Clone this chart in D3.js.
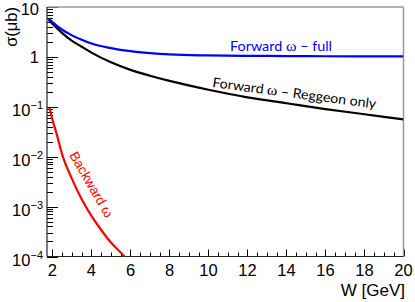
<!DOCTYPE html>
<html>
<head>
<meta charset="utf-8">
<script src="https://cdn.jsdelivr.net/npm/d3@7"></script>
<style>
  body { margin: 0; background: #fff; }
  svg { display: block; }
</style>
</head>
<body>
<svg id="chart" width="415" height="302"></svg>
<script>
// values
const wFull = [1.8, 2, 2.5, 3, 3.5, 4, 5, 6, 7, 8, 10, 12, 14, 16, 18, 20];
const sigmaFull = [5.9, 5.0, 3.5, 2.7, 2.2, 1.85, 1.5, 1.3, 1.19, 1.12, 1.07, 1.05, 1.04, 1.03, 1.02, 1.02];

const wRegge = [1.8, 2, 2.5, 3, 3.5, 4, 5, 6, 7, 8, 10, 12, 14, 16, 18, 20];
const sigmaRegge = [5.6, 4.6, 3.0, 2.1, 1.6, 1.22, 0.78, 0.55, 0.42, 0.33, 0.22, 0.155, 0.118, 0.09, 0.071, 0.056];

const wBack = [1.85, 2, 2.2, 2.5, 3, 3.5, 4, 4.5, 5, 5.5, 6];
const sigmaBack = [0.095, 0.055, 0.03, 0.011, 0.0036, 0.0014, 6.5e-4, 3.4e-4, 1.9e-4, 1.2e-4, 7.5e-5];

const xMajor = [2, 4, 6, 8, 10, 12, 14, 16, 18, 20];
const yMajor = [10, 1, 0.1, 0.01, 0.001, 0.0001];
const yLabels = [
  { v: 10, base: "10", exp: null },
  { v: 1, base: "1", exp: null },
  { v: 0.1, base: "10", exp: "\u22121" },
  { v: 0.01, base: "10", exp: "\u22122" },
  { v: 0.001, base: "10", exp: "\u22123" },
  { v: 0.0001, base: "10", exp: "\u22124" }
];

const pLeft = 47, pRight = 403.5, pTop = 7, pBottom = 256.5;
const svg = d3.select("#chart");

const x = d3.scaleLinear().domain([1.72, 20]).range([pLeft, pRight]);
const y = d3.scaleLog().domain([1e-4, 10]).range([pBottom, pTop]);

svg.append("defs").append("clipPath").attr("id", "plot")
  .append("rect").attr("x", pLeft).attr("y", pTop)
  .attr("width", pRight - pLeft).attr("height", pBottom - pTop);

// minor ticks
const xMinor = d3.range(2.5, 20, 0.5).filter(v => v % 2 !== 0);
const yMinor = [];
[1e-4, 1e-3, 1e-2, 1e-1, 1].forEach(d => {
  for (let k = 2; k <= 9; k++) yMinor.push(d * k);
});

const ticks = svg.append("g").attr("stroke", "#000").attr("stroke-width", 1);
ticks.selectAll(".xmaj").data(xMajor).join("line")
  .attr("x1", d => Math.round(x(d)) + 0.5).attr("x2", d => Math.round(x(d)) + 0.5)
  .attr("y1", pBottom).attr("y2", pBottom - 7);
ticks.selectAll(".xmin").data(xMinor).join("line")
  .attr("x1", d => Math.round(x(d)) + 0.5).attr("x2", d => Math.round(x(d)) + 0.5)
  .attr("y1", pBottom).attr("y2", pBottom - 4);
ticks.selectAll(".ymaj").data(yMajor).join("line")
  .attr("y1", d => Math.round(y(d)) + 0.5).attr("y2", d => Math.round(y(d)) + 0.5)
  .attr("x1", pLeft).attr("x2", pLeft + 11);
ticks.selectAll(".ymin").data(yMinor).join("line")
  .attr("y1", d => Math.round(y(d)) + 0.5).attr("y2", d => Math.round(y(d)) + 0.5)
  .attr("x1", pLeft).attr("x2", pLeft + 6);

// frame
svg.append("line").attr("x1", pLeft).attr("x2", pRight).attr("y1", pTop).attr("y2", pTop)
  .attr("stroke", "#999").attr("stroke-width", 1.5);
svg.append("line").attr("x1", pRight).attr("x2", pRight).attr("y1", pTop).attr("y2", pBottom)
  .attr("stroke", "#999").attr("stroke-width", 1.5);
svg.append("line").attr("x1", pLeft).attr("x2", pLeft).attr("y1", pTop).attr("y2", pBottom)
  .attr("stroke", "#222").attr("stroke-width", 1.2);
svg.append("line").attr("x1", pLeft).attr("x2", pRight).attr("y1", pBottom).attr("y2", pBottom)
  .attr("stroke", "#222").attr("stroke-width", 1.2);

// curves
const line = d3.line().x(d => x(d[0])).y(d => y(d[1])).curve(d3.curveMonotoneX);
const curves = svg.append("g").attr("clip-path", "url(#plot)").attr("fill", "none").attr("stroke-width", 2.2);
curves.append("path").attr("d", line(d3.zip(wRegge, sigmaRegge))).attr("stroke", "#000");
curves.append("path").attr("d", line(d3.zip(wFull, sigmaFull))).attr("stroke", "#0000ff");
curves.append("path").attr("d", line(d3.zip(wBack, sigmaBack))).attr("stroke", "#ff0000");

// tick labels
const font = "'Liberation Sans', Arial, Helvetica, sans-serif";
svg.append("g").selectAll("text").data(xMajor).join("text")
  .attr("x", d => x(d)).attr("y", 275.5)
  .attr("text-anchor", "middle").attr("font-family", font).attr("font-size", 16.5)
  .text(d => d);

const yl = svg.append("g").attr("font-family", font);
yLabels.forEach(l => {
  const ty = y(l.v);
  if (l.exp === null) {
    yl.append("text").attr("x", 39).attr("y", Math.max(ty + 6, 15)).attr("text-anchor", "end")
      .attr("font-size", 16.5).text(l.base);
  } else {
    const t = yl.append("text").attr("x", 43).attr("y", ty + 9).attr("text-anchor", "end").attr("font-size", 16.5);
    t.append("tspan").text(l.base);
    t.append("tspan").attr("font-size", 11).attr("dy", -7).text(l.exp);
  }
});

// axis titles
svg.append("text").attr("x", 405).attr("y", 296).attr("text-anchor", "end")
  .attr("font-family", font).attr("font-size", 17).text("W [GeV]");
svg.append("text").attr("transform", "translate(17,7) rotate(-90)").attr("text-anchor", "end")
  .attr("font-family", font).attr("font-size", 16.5).text("\u03c3(\u03bcb)");

// curve labels
const lab = "Lato, 'Open Sans', sans-serif";
const serif = "'Liberation Serif', 'DejaVu Serif', serif";
const t1 = svg.append("text").attr("x", 230).attr("y", 51).attr("fill", "#0000ff")
  .attr("font-family", lab).attr("font-size", 13.5)
  .attr("textLength", 102).attr("lengthAdjust", "spacingAndGlyphs");
t1.append("tspan").text("Forward ");
t1.append("tspan").attr("font-family", serif).attr("font-size", 15).text("\u03c9");
t1.append("tspan").text(" \u2013 full");

const t2 = svg.append("text").attr("transform", "translate(212,87) rotate(7.5)")
  .attr("fill", "#000").attr("font-family", lab).attr("font-size", 13.5)
  .attr("textLength", 165).attr("lengthAdjust", "spacingAndGlyphs");
t2.append("tspan").text("Forward ");
t2.append("tspan").attr("font-family", serif).attr("font-size", 15).text("\u03c9");
t2.append("tspan").text(" \u2013 Reggeon only");

svg.append("text").attr("transform", "translate(69,155) rotate(60)")
  .attr("fill", "#ff0000").attr("font-family", font).attr("font-size", 13.5)
  .text("Backward \u03c9");
</script>
</body>
</html>
